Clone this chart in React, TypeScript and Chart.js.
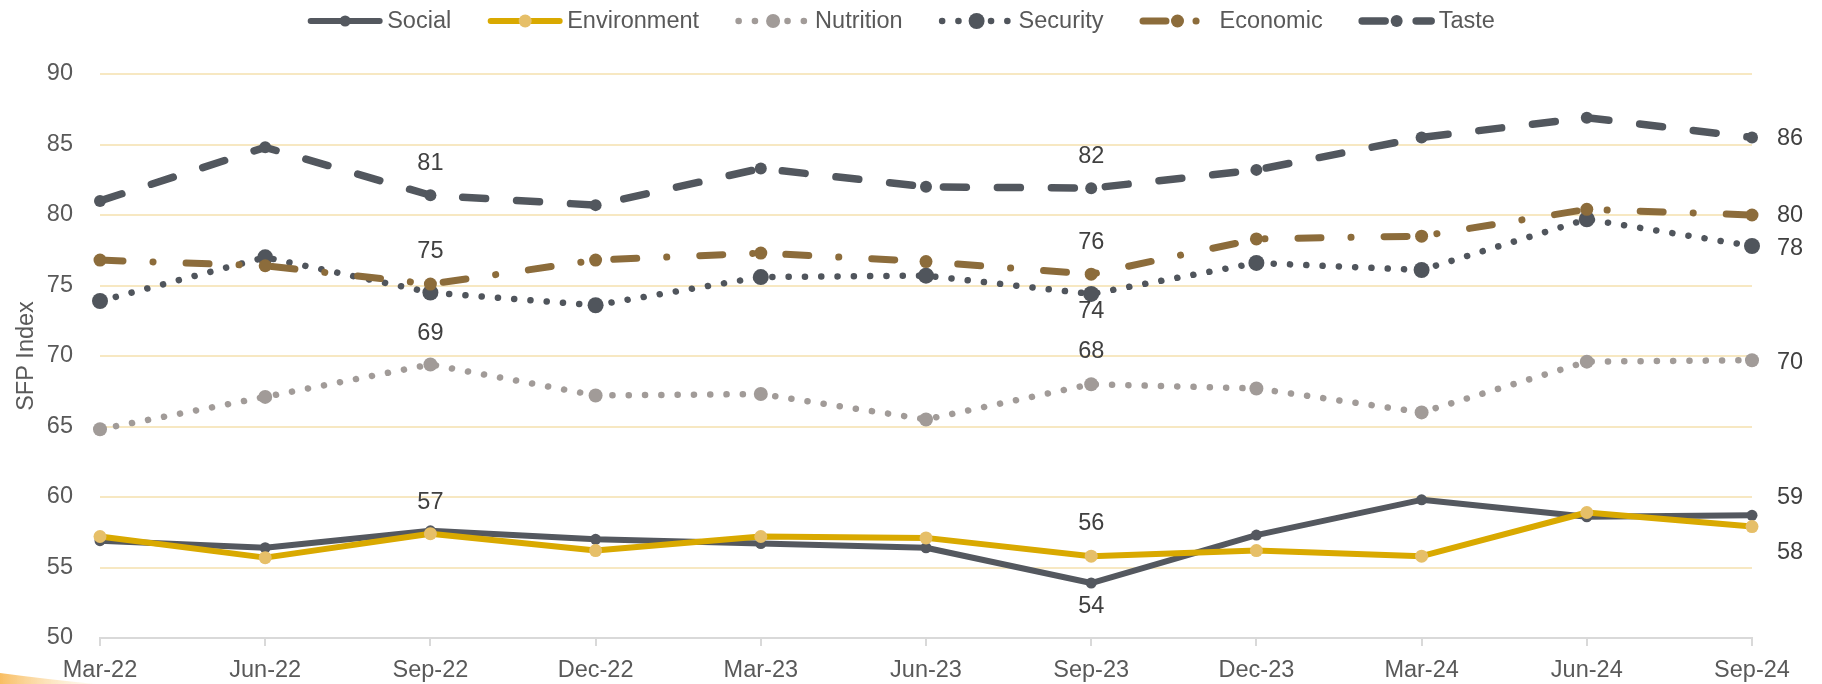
import { useEffect, useRef } from 'react';
import { Chart, registerables } from 'chart.js';

Chart.register(...registerables);

const FONT = "'Liberation Sans', Arial, Helvetica, sans-serif";
const FONT_SIZE = 23.5;

// Quarterly SFP index readings per dimension
const quarters = ['Mar-22', 'Jun-22', 'Sep-22', 'Dec-22', 'Mar-23', 'Jun-23', 'Sep-23', 'Dec-23', 'Mar-24', 'Jun-24', 'Sep-24'];
const social = [56.9, 56.4, 57.6, 57.0, 56.7, 56.4, 53.9, 57.3, 59.8, 58.6, 58.7];
const environment = [57.2, 55.7, 57.4, 56.2, 57.2, 57.1, 55.8, 56.2, 55.8, 58.9, 57.9];
const nutrition = [64.8, 67.1, 69.4, 67.2, 67.3, 65.5, 68.0, 67.7, 66.0, 69.6, 69.7];
const security = [73.9, 77.0, 74.5, 73.6, 75.6, 75.7, 74.4, 76.6, 76.1, 79.7, 77.8];
const economic = [76.8, 76.4, 75.1, 76.8, 77.3, 76.7, 75.8, 78.3, 78.5, 80.4, 80.0];
const taste = [81.0, 84.8, 81.4, 80.7, 83.3, 82.0, 81.9, 83.2, 85.5, 86.9, 85.5];

const yTicks = [50, 55, 60, 65, 70, 75, 80, 85, 90];

// Visual style for each series (drawing order: lower `order` is painted on top)
const SERIES = [
  { label: 'Social', data: social, color: '#54585F', point: '#54585F', width: 6, dash: [] as number[], radius: 5.5, order: 1 },
  { label: 'Environment', data: environment, color: '#D9A900', point: '#E6BF68', width: 6, dash: [] as number[], radius: 6.5, order: 0 },
  { label: 'Nutrition', data: nutrition, color: '#A19B98', point: '#A19B98', width: 6.5, dash: [0.1, 16.2], radius: 7, order: 2 },
  { label: 'Security', data: security, color: '#50555C', point: '#50555C', width: 6.5, dash: [0.1, 16.2], radius: 8, order: 4 },
  { label: 'Economic', data: economic, color: '#8C6C3B', point: '#8C6C3B', width: 7, dash: [23, 30, 0.1, 33], radius: 6.5, order: 3 },
  { label: 'Taste', data: taste, color: '#52575E', point: '#52575E', width: 7.5, dash: [23, 31], radius: 6, order: 5 },
];

// Value labels: which series/point, and where the text sits relative to the point
const VALUE_LABELS = [
  { series: 'Taste', index: 2, dx: 0, dy: -32, align: 'center' },
  { series: 'Economic', index: 2, dx: 0, dy: -33, align: 'center' },
  { series: 'Nutrition', index: 2, dx: 0, dy: -31, align: 'center' },
  { series: 'Environment', index: 2, dx: 0, dy: -31, align: 'center' },
  { series: 'Taste', index: 6, dx: 0, dy: -32, align: 'center' },
  { series: 'Economic', index: 6, dx: 0, dy: -32, align: 'center' },
  { series: 'Security', index: 6, dx: 0, dy: 18, align: 'center' },
  { series: 'Nutrition', index: 6, dx: 0, dy: -33, align: 'center' },
  { series: 'Environment', index: 6, dx: 0, dy: -33, align: 'center' },
  { series: 'Social', index: 6, dx: 0, dy: 24, align: 'center' },
  { series: 'Taste', index: 10, dx: 25, dy: 1, align: 'left' },
  { series: 'Economic', index: 10, dx: 25, dy: 1, align: 'left' },
  { series: 'Security', index: 10, dx: 25, dy: 2, align: 'left' },
  { series: 'Nutrition', index: 10, dx: 25, dy: 2, align: 'left' },
  { series: 'Social', index: 10, dx: 25, dy: -18, align: 'left' },
  { series: 'Environment', index: 10, dx: 25, dy: 26, align: 'left' },
];

const LEGEND_CENTER_X = 901;
const LEGEND_Y = 21;

// Soft orange corner accent at the lower left
const cornerAccent = {
  id: 'cornerAccent',
  beforeDraw(chart: any) {
    const { ctx, height } = chart;
    ctx.save();
    const g = ctx.createLinearGradient(0, height, 95, height);
    g.addColorStop(0, 'rgba(248,186,90,0.95)');
    g.addColorStop(1, 'rgba(252,225,175,0.15)');
    ctx.fillStyle = g;
    ctx.beginPath();
    ctx.moveTo(0, height - 11);
    ctx.quadraticCurveTo(45, height - 5, 95, height);
    ctx.lineTo(0, height);
    ctx.closePath();
    ctx.fill();
    ctx.restore();
  },
};

// Numeric labels next to selected points
const valueLabels = {
  id: 'valueLabels',
  afterDatasetsDraw(chart: any) {
    const { ctx } = chart;
    ctx.save();
    ctx.font = `${FONT_SIZE}px ${FONT}`;
    ctx.fillStyle = '#404040';
    ctx.textBaseline = 'middle';
    VALUE_LABELS.forEach((l) => {
      const di = SERIES.findIndex((s) => s.label === l.series);
      const meta = chart.getDatasetMeta(di);
      const pt = meta.data[l.index];
      const v = SERIES[di].data[l.index];
      ctx.textAlign = l.align;
      ctx.fillText(String(Math.round(v)), pt.x + l.dx, pt.y + l.dy);
    });
    ctx.restore();
  },
};

// Legend with a line sample and marker for every series
const lineLegend = {
  id: 'lineLegend',
  afterDraw(chart: any) {
    const { ctx } = chart;
    ctx.save();
    ctx.font = `${FONT_SIZE}px ${FONT}`;
    const sampleW = 76;
    const textGap = 4;
    const itemGap = 36;
    const widths = SERIES.map((s) => sampleW + textGap + ctx.measureText(s.label).width);
    const total = widths.reduce((a, b) => a + b, 0) + itemGap * (SERIES.length - 1);
    let x = LEGEND_CENTER_X - total / 2;
    const y = LEGEND_Y;
    SERIES.forEach((s, i) => {
      ctx.save();
      ctx.strokeStyle = s.color;
      ctx.lineWidth = s.width;
      ctx.lineCap = 'round';
      ctx.setLineDash(s.dash);
      ctx.beginPath();
      ctx.moveTo(x + 3.5, y);
      ctx.lineTo(x + sampleW - 3.5, y);
      ctx.stroke();
      ctx.setLineDash([]);
      ctx.fillStyle = s.point;
      ctx.beginPath();
      ctx.arc(x + sampleW / 2, y, s.radius, 0, Math.PI * 2);
      ctx.fill();
      ctx.restore();
      ctx.fillStyle = '#595959';
      ctx.textAlign = 'left';
      ctx.textBaseline = 'middle';
      ctx.fillText(s.label, x + sampleW + textGap, y + 1);
      x += widths[i] + itemGap;
    });
    ctx.restore();
  },
};

export default function App() {
  const canvasRef = useRef<HTMLCanvasElement>(null);

  useEffect(() => {
    const chart = new Chart(canvasRef.current as HTMLCanvasElement, {
      type: 'line',
      data: {
        labels: quarters,
        datasets: SERIES.map((s) => ({
          label: s.label,
          data: s.data,
          borderColor: s.color,
          backgroundColor: s.point,
          pointBackgroundColor: s.point,
          pointBorderColor: s.point,
          pointBorderWidth: 0,
          pointRadius: s.radius,
          pointHoverRadius: s.radius,
          borderWidth: s.width,
          borderDash: s.dash,
          borderCapStyle: 'round',
          borderJoinStyle: 'round',
          tension: 0,
          fill: false,
          order: s.order,
          clip: false,
        })) as any,
      },
      options: {
        responsive: false,
        animation: false,
        events: [],
        layout: { padding: { top: 74, right: 70, bottom: 0, left: 0 } },
        plugins: {
          legend: { display: false },
          tooltip: { enabled: false },
        },
        scales: {
          x: {
            type: 'category',
            offset: false,
            afterFit: (scale: any) => {
              scale.height = 46;
            },
            grid: {
              drawOnChartArea: false,
              drawTicks: true,
              tickLength: 8,
              color: '#D9D9D9',
              lineWidth: 2,
            },
            border: { display: true, color: '#D9D9D9', width: 2 },
            ticks: {
              color: '#595959',
              font: { size: FONT_SIZE, family: FONT },
              padding: 10,
              maxRotation: 0,
              autoSkip: false,
            },
          },
          y: {
            min: yTicks[0],
            max: yTicks[yTicks.length - 1],
            afterFit: (scale: any) => {
              scale.width = 100;
            },
            afterBuildTicks: (scale: any) => {
              scale.ticks = yTicks.map((v) => ({ value: v }));
            },
            grid: {
              drawTicks: false,
              color: (c: any) => (c.tick && c.tick.value === yTicks[0] ? 'rgba(0,0,0,0)' : '#F7E8C2'),
              lineWidth: 2,
            },
            border: { display: false },
            ticks: {
              color: '#595959',
              font: { size: FONT_SIZE, family: FONT },
              padding: 27,
            },
            title: {
              display: true,
              text: 'SFP Index',
              color: '#595959',
              font: { size: FONT_SIZE, family: FONT },
              padding: { top: 12, bottom: 0 },
            },
          },
        },
      },
      plugins: [cornerAccent, valueLabels, lineLegend],
    });
    return () => chart.destroy();
  }, []);

  return (
    <div style={{ position: 'absolute', left: 0, top: 0, width: 1822, height: 684, background: '#ffffff' }}>
      <canvas ref={canvasRef} width={1822} height={684} style={{ display: 'block' }} />
    </div>
  );
}
